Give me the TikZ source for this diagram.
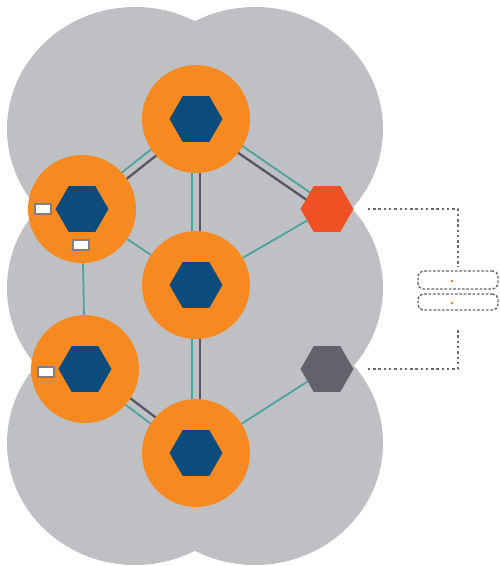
\documentclass[tikz,border=0pt]{standalone}
\usetikzlibrary{shapes.geometric,calc}

\definecolor{cloudgray}{RGB}{191,192,195}
\definecolor{ringorange}{RGB}{246,137,31}
\definecolor{hexblue}{RGB}{12,76,124}
\definecolor{hexred}{RGB}{239,80,36}
\definecolor{hexgray}{RGB}{98,98,106}
\definecolor{linkteal}{RGB}{74,162,158}
\definecolor{linkdark}{RGB}{86,86,98}
\definecolor{dotgray}{RGB}{105,105,112}

\pgfdeclarelayer{cloud}
\pgfdeclarelayer{links}
\pgfsetlayers{cloud,links,main}

\tikzset{
  ring/.style={circle, fill=ringorange, minimum size=2.16cm, inner sep=0pt},
  hexnode/.style={regular polygon, regular polygon sides=6, minimum size=1.06cm,
    inner sep=0pt, fill=hexblue},
  tealline/.style={linkteal, line width=1pt},
  darkline/.style={linkdark, line width=1.3pt},
  laptop/.style={rectangle, fill=white, draw=gray, line width=0.6pt,
    minimum width=0.32cm, minimum height=0.2cm, inner sep=0pt},
  guide/.style={dotgray, line width=1.2pt, dash pattern=on 1.4pt off 1.6pt},
  device/.style={rectangle, rounded corners=3pt, draw=dotgray, line width=0.8pt,
    dash pattern=on 1.5pt off 1pt, fill=white, minimum width=1.6cm, inner sep=0pt}
}

% teal + dark pair of links between two nodes
\newcommand{\dualedge}[2]{%
  \draw[tealline] ($(#1)!0.08cm!-90:(#2)$) -- ($(#2)!0.08cm!90:(#1)$);
  \draw[darkline] ($(#1)!0.08cm!90:(#2)$) -- ($(#2)!0.08cm!-90:(#1)$);
}

\begin{document}
\begin{tikzpicture}[x=0.02cm, y=-0.02cm]
\useasboundingbox (0,0) rectangle (500,566);

% --- rings and hexagons ---
\node[ring] (ctop) at (196,119) {};
\node[ring] (cul)  at (82,209)  {};
\node[ring] (ccen) at (196,285) {};
\node[ring] (cll)  at (85,369)  {};
\node[ring] (cbot) at (196,453) {};
\foreach \n in {top,ul,cen,ll,bot} {
    \node[hexnode] (h\n) at (c\n) {};
}
\node[hexnode, fill=hexred]  (hred)  at (327,209) {};
\node[hexnode, fill=hexgray] (hgray) at (327,369) {};

% --- small terminals ---
\node[laptop] (lap1) at (43,209) {};
\node[laptop] (lap2) at (81,245) {};
\node[laptop] (lap3) at (46,372) {};

% --- gray coverage area ---
\begin{pgfonlayer}{cloud}
    \foreach \cx in {135,255} {
        \foreach \cy in {129,288,443} {
            \fill[cloudgray] (\cx,\cy) ellipse [x radius=128, y radius=122];
        }
    }
\end{pgfonlayer}

% --- links ---
\begin{pgfonlayer}{links}
    \dualedge{ctop}{cul}
    \dualedge{ctop}{ccen}
    \dualedge{hred}{ctop}
    \dualedge{ccen}{cbot}
    \dualedge{cll}{cbot}
    \draw[tealline] (cul) -- (ccen);
    \draw[tealline] (cul) -- (cll);
    \draw[tealline] (ccen) -- (hred);
    \draw[tealline] (cbot) -- (hgray);
\end{pgfonlayer}

% --- devices on the right ---
\node[device, minimum height=0.36cm] (icona) at (458,280) {};
\node[device, minimum height=0.32cm] (iconb) at (458,302) {};
\fill[ringorange] (452,281) circle [radius=1.5];
\fill[ringorange] (452,303) circle [radius=1.5];

\draw[guide, shorten <=0.28cm, shorten >=0.06cm] (hred.east) -| (icona.north);
\draw[guide, shorten <=0.28cm, shorten >=0.38cm] (hgray.east) -| (iconb.south);

\end{tikzpicture}
\end{document}
